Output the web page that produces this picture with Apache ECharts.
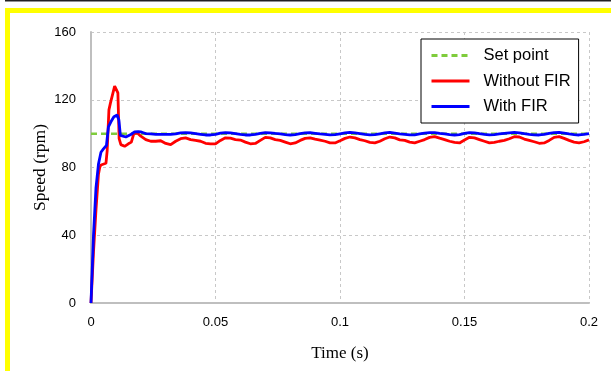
<!DOCTYPE html>
<html>
<head>
<meta charset="utf-8">
<script src="https://cdn.jsdelivr.net/npm/echarts@6/dist/echarts.min.js"></script>
<style>
  html, body { margin: 0; padding: 0; background: #fff; }
  #chart { width: 611px; height: 371px; }
</style>
</head>
<body>
<div id="chart"></div>
<script>
// axis ticks
const xTicks = [0, 0.05, 0.1, 0.15, 0.2]
const yTicks = [0, 40, 80, 120, 160]

// set point (rpm)
const setPoint = [[0, 100], [0.2, 100]]

// speed without FIR filter: [time s, rpm]
const withoutFir = [
  [0, 0], [0.001, 30], [0.002, 55], [0.003, 76], [0.0035, 80], [0.004, 81.5], [0.006, 82.5],
  [0.0065, 90], [0.0072, 114], [0.0078, 118], [0.0095, 128], [0.0102, 129], [0.0108, 124],
  [0.0113, 97], [0.012, 93.5], [0.0135, 92.5], [0.015, 94], [0.0162, 95], [0.0172, 100],
  [0.0185, 100.5], [0.019, 100], [0.02, 98.5], [0.022, 96.5], [0.024, 95.5], [0.026, 95.5],
  [0.028, 95.8], [0.03, 94.2], [0.032, 93.5], [0.034, 95.5], [0.036, 97], [0.038, 97.5],
  [0.04, 96.5], [0.042, 96], [0.044, 95.5], [0.046, 94.3], [0.048, 94], [0.05, 94],
  [0.052, 96], [0.054, 97.5], [0.056, 97.3], [0.058, 96.5], [0.06, 96.2], [0.062, 95],
  [0.064, 94], [0.066, 94.2], [0.068, 96], [0.07, 97.8], [0.072, 97.5], [0.074, 96.5],
  [0.076, 96], [0.078, 95], [0.08, 94], [0.082, 94.5], [0.084, 96], [0.086, 97.2],
  [0.088, 97.5], [0.09, 96.8], [0.092, 96.2], [0.094, 95.5], [0.096, 94.5], [0.098, 94.5],
  [0.1, 95.8], [0.102, 97.2], [0.104, 98], [0.106, 97.5], [0.108, 96.5], [0.11, 95.8],
  [0.112, 94.8], [0.114, 94.5], [0.116, 95.5], [0.118, 97], [0.12, 98], [0.122, 97.5],
  [0.124, 96.3], [0.126, 96], [0.128, 95], [0.13, 94.5], [0.132, 95.5], [0.134, 96.5],
  [0.136, 97.8], [0.138, 98.2], [0.14, 97.3], [0.142, 96.5], [0.144, 95.5], [0.146, 94.8],
  [0.148, 94.5], [0.15, 96.2], [0.152, 97.8], [0.154, 97.5], [0.156, 96.5], [0.158, 95.5],
  [0.16, 94.5], [0.162, 94.8], [0.164, 95.5], [0.166, 96], [0.168, 97], [0.17, 98.2],
  [0.172, 98], [0.174, 96.8], [0.176, 96], [0.178, 95.2], [0.18, 94.3], [0.182, 94.5],
  [0.184, 96], [0.186, 97.8], [0.188, 98.2], [0.19, 97.2], [0.192, 96], [0.194, 95],
  [0.196, 94.5], [0.198, 95.2], [0.2, 96.3]
]

// speed with FIR filter: [time s, rpm]
const withFir = [
  [0, 0], [0.001, 40], [0.002, 68], [0.003, 82], [0.004, 89], [0.005, 91], [0.0062, 93],
  [0.007, 104], [0.008, 107], [0.0092, 110], [0.0105, 111], [0.0112, 108], [0.0118, 99],
  [0.0125, 98], [0.014, 98], [0.016, 99.5], [0.0175, 101], [0.019, 101.2], [0.02, 101],
  [0.021, 100.5], [0.022, 100], [0.024, 99.8], [0.026, 99.6], [0.028, 99.6], [0.03, 99.5],
  [0.032, 99.5], [0.034, 99.8], [0.036, 100.5], [0.038, 100.6], [0.04, 100.4], [0.042, 100],
  [0.044, 99.6], [0.046, 99.2], [0.048, 99.2], [0.05, 99.5], [0.052, 100.3], [0.054, 100.6],
  [0.056, 100.4], [0.058, 100], [0.06, 99.5], [0.062, 99.2], [0.064, 99.2], [0.066, 99.6],
  [0.068, 100.2], [0.07, 100.6], [0.072, 100.5], [0.074, 100.1], [0.076, 99.8], [0.078, 99.4],
  [0.08, 99.2], [0.082, 99.4], [0.084, 100], [0.086, 100.5], [0.088, 100.6], [0.09, 100.2],
  [0.092, 99.8], [0.094, 99.6], [0.096, 99.3], [0.098, 99.4], [0.1, 99.9], [0.102, 100.4],
  [0.104, 100.7], [0.106, 100.4], [0.108, 100], [0.11, 99.6], [0.112, 99.3], [0.114, 99.4],
  [0.116, 99.9], [0.118, 100.4], [0.12, 100.7], [0.122, 100.3], [0.124, 99.9], [0.126, 99.6],
  [0.128, 99.3], [0.13, 99.3], [0.132, 99.8], [0.134, 100.3], [0.136, 100.6], [0.138, 100.6],
  [0.14, 100.1], [0.142, 99.8], [0.144, 99.4], [0.146, 99.2], [0.148, 99.4], [0.15, 100.1],
  [0.152, 100.6], [0.154, 100.5], [0.156, 100], [0.158, 99.6], [0.16, 99.3], [0.162, 99.4],
  [0.164, 99.8], [0.166, 100.2], [0.168, 100.5], [0.17, 100.7], [0.172, 100.5], [0.174, 100],
  [0.176, 99.6], [0.178, 99.3], [0.18, 99.2], [0.182, 99.5], [0.184, 100.2], [0.186, 100.6],
  [0.188, 100.7], [0.19, 100.3], [0.192, 99.8], [0.194, 99.4], [0.196, 99.2], [0.198, 99.5],
  [0.2, 100]
]

const chart = echarts.init(document.getElementById('chart'))

const gridDash = { color: '#c8c8c8', type: [3, 3], width: 1 }

chart.setOption({
  animation: false,
  backgroundColor: '#fff',
  graphic: [
    { type: 'rect', shape: { x: 5, y: 0, width: 606, height: 1.5 }, style: { fill: '#222' }, silent: true },
    { type: 'rect', shape: { x: 5, y: 8, width: 606, height: 5 }, style: { fill: '#ffff00' }, silent: true },
    { type: 'rect', shape: { x: 5, y: 8, width: 5, height: 363 }, style: { fill: '#ffff00' }, silent: true }
  ],
  grid: { left: 91, right: 22, top: 32, bottom: 68 },
  legend: {
    orient: 'vertical',
    left: 421,
    top: 39,
    padding: [8, 8, 8, 9],
    itemWidth: 38,
    itemHeight: 14,
    itemGap: 8.5,
    borderColor: '#000',
    borderWidth: 1,
    backgroundColor: '#fff',
    itemStyle: { opacity: 0 },
    lineStyle: { width: 3 },
    textStyle: { fontFamily: 'Liberation Sans', fontSize: 16.5, color: '#000', padding: [0, 0, 0, 9] },
    data: ['Set point', 'Without FIR', 'With FIR']
  },
  xAxis: {
    type: 'value',
    min: xTicks[0],
    max: xTicks[xTicks.length - 1],
    interval: 0.05,
    name: 'Time (s)',
    nameLocation: 'middle',
    nameGap: 42,
    nameTextStyle: { fontFamily: 'Liberation Serif', fontSize: 17, color: '#000' },
    axisLine: { lineStyle: { color: '#bfbfbf', width: 2 } },
    axisTick: { show: false },
    axisLabel: { fontFamily: 'Liberation Sans', fontSize: 13, color: '#000', margin: 13 },
    splitLine: { lineStyle: gridDash }
  },
  yAxis: {
    type: 'value',
    min: yTicks[0],
    max: yTicks[yTicks.length - 1],
    interval: 40,
    name: 'Speed (rpm)',
    nameLocation: 'middle',
    nameMoveOverlap: false,
    nameGap: 42,
    nameTextStyle: { fontFamily: 'Liberation Serif', fontSize: 17.5, color: '#000' },
    axisLine: { show: true, lineStyle: { color: '#bfbfbf', width: 2 } },
    axisTick: { show: false },
    axisLabel: { fontFamily: 'Liberation Sans', fontSize: 13, color: '#000', margin: 15 },
    splitLine: { lineStyle: gridDash }
  },
  series: [
    {
      name: 'Set point',
      type: 'line',
      data: setPoint,
      symbol: 'none',
      z: 1,
      lineStyle: { color: '#7fcc3c', width: 2.5, type: [6, 4] },
      itemStyle: { color: '#7fcc3c' }
    },
    {
      name: 'Without FIR',
      type: 'line',
      data: withoutFir,
      symbol: 'none',
      z: 2,
      lineStyle: { color: '#ff0000', width: 2.8 },
      itemStyle: { color: '#ff0000' }
    },
    {
      name: 'With FIR',
      type: 'line',
      data: withFir,
      symbol: 'none',
      z: 3,
      lineStyle: { color: '#0000ff', width: 2.8 },
      itemStyle: { color: '#0000ff' }
    }
  ]
})
</script>
</body>
</html>
